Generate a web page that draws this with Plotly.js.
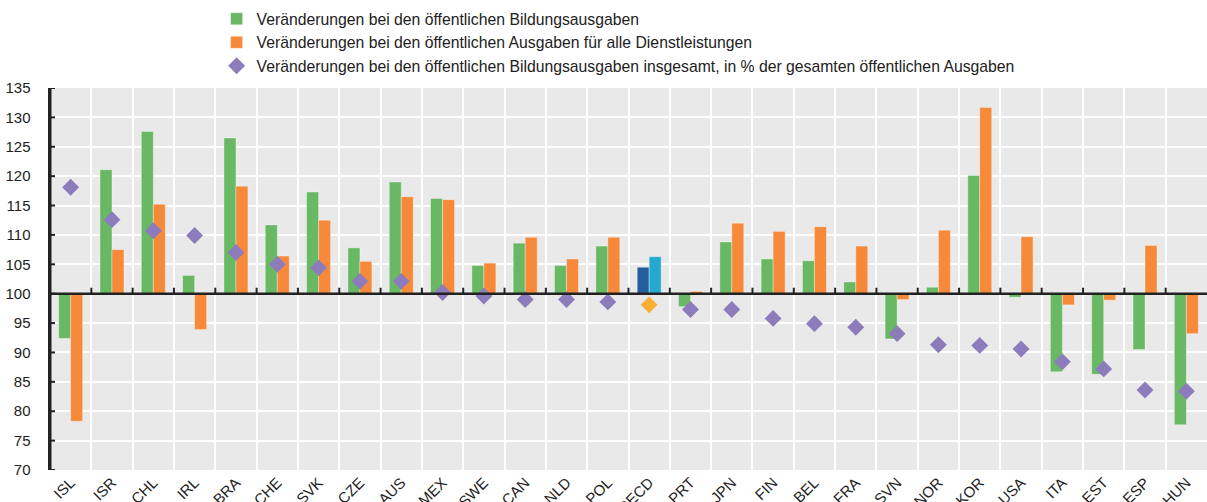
<!DOCTYPE html>
<html>
<head>
<meta charset="utf-8">
<script src="https://cdn.plot.ly/plotly-3.0.1.min.js"></script>
<style>html,body{margin:0;padding:0;background:#fff;}#chart{width:1207px;height:502px;}</style>
</head>
<body>
<div id="chart"></div>
<script>
const countries = ["ISL","ISR","CHL","IRL","BRA","CHE","SVK","CZE","AUS","MEX","SWE","CAN","NLD","POL","OECD","PRT","JPN","FIN","BEL","FRA","SVN","NOR","KOR","USA","ITA","EST","ESP","HUN"];
const educationSpending = [92.4,121.1,127.6,103.1,126.5,111.7,117.3,107.8,119.0,116.2,104.8,108.6,104.8,108.1,104.5,97.8,108.8,105.9,105.6,102.0,92.3,101.1,120.1,99.4,86.7,86.3,90.5,77.7];
const allServicesSpending = [78.3,107.5,115.2,93.9,118.3,106.4,112.5,105.5,116.5,116.0,105.2,109.6,105.9,109.6,106.3,100.4,112.0,110.6,111.4,108.1,99.0,110.8,131.7,109.7,98.1,98.9,108.2,93.2];
const educationShare = [118.1,112.6,110.7,109.9,107.0,105.0,104.4,102.1,102.1,100.2,99.6,99.0,99.0,98.6,98.1,97.3,97.3,95.8,94.9,94.3,93.2,91.3,91.2,90.6,88.4,87.2,83.6,83.4];
const yTicks = [70,75,80,85,90,95,100,105,110,115,120,125,130,135];
const baseline = 100;
const legendNames = [
  "Veränderungen bei den öffentlichen Bildungsausgaben",
  "Veränderungen bei den öffentlichen Ausgaben für alle Dienstleistungen",
  "Veränderungen bei den öffentlichen Bildungsausgaben insgesamt, in % der gesamten öffentlichen Ausgaben"
];

const isOecd = c => c === "OECD";
const greenColors = countries.map(c => isOecd(c) ? "#255e9e" : "#68b864");
const orangeColors = countries.map(c => isOecd(c) ? "#26a9d0" : "#f6893a");
const diamondColors = countries.map(c => isOecd(c) ? "#fbae34" : "#8d7cbc");
const nCat = countries.length;
const axisColor = "#222";

const traces = [
  {
    type: "bar", name: legendNames[0], x: countries,
    y: educationSpending.map(v => v - baseline), base: baseline,
    marker: {color: greenColors, line: {color: "rgba(255,255,255,0.35)", width: 1}},
    hovertemplate: "%{x}: %{customdata}<extra></extra>", customdata: educationSpending
  },
  {
    type: "bar", name: legendNames[1], x: countries,
    y: allServicesSpending.map(v => v - baseline), base: baseline,
    marker: {color: orangeColors, line: {color: "rgba(255,255,255,0.35)", width: 1}},
    hovertemplate: "%{x}: %{customdata}<extra></extra>", customdata: allServicesSpending
  },
  {
    type: "scatter", mode: "markers", name: legendNames[2], x: countries, y: educationShare,
    marker: {symbol: "diamond", size: 13, color: diamondColors},
    hovertemplate: "%{x}: %{y}<extra></extra>"
  }
];

// axis decorations (y-axis line, inside ticks, baseline with category-boundary ticks)
const shapes = [
  {type: "line", xref: "paper", yref: "paper", xsizemode: "pixel", xanchor: 0,
   x0: 0, x1: 0, y0: 0, y1: 1, line: {color: axisColor, width: 3}, layer: "above"},
  {type: "line", xref: "paper", yref: "y", x0: 0, x1: 1, y0: baseline, y1: baseline,
   line: {color: axisColor, width: 2.5}, layer: "above"}
];
yTicks.forEach(t => shapes.push({
  type: "line", xref: "paper", yref: "y", xsizemode: "pixel", xanchor: 0,
  x0: 0, x1: 5, y0: t, y1: t, line: {color: axisColor, width: 2}, layer: "above"
}));
countries.slice(1).forEach((c, i) => shapes.push({
  type: "line", xref: "x", yref: "y", ysizemode: "pixel", yanchor: baseline,
  x0: i + 0.5, x1: i + 0.5, y0: 0, y1: 6, line: {color: axisColor, width: 2}, layer: "above"
}));

const layout = {
  width: 1207, height: 502,
  margin: {l: 50, r: 0, t: 88, b: 32},
  paper_bgcolor: "#ffffff",
  plot_bgcolor: "#e9e9e9",
  font: {family: "Liberation Sans, Arial, sans-serif", size: 15, color: "#222"},
  barmode: "group",
  bargap: 0.42,
  bargroupgap: 0,
  showlegend: true,
  legend: {
    x: 0.144, y: 1.225, xanchor: "left", yanchor: "top",
    bgcolor: "rgba(0,0,0,0)", font: {size: 15.75, color: "#222"},
    tracegroupgap: 0, itemwidth: 30, traceorder: "normal"
  },
  xaxis: {
    type: "category", range: [-0.5, nCat - 0.5], tickson: "boundaries",
    showgrid: true, gridcolor: "#ffffff", gridwidth: 2,
    ticks: "", tickangle: -45, showline: false, zeroline: false, automargin: false,
    tickfont: {size: 15, color: "#222"}
  },
  yaxis: {
    range: [70, 135], tickmode: "array", tickvals: yTicks,
    showgrid: true, gridcolor: "#ffffff", gridwidth: 2,
    zeroline: false, showline: true, linecolor: axisColor, linewidth: 2.5,
    ticks: "outside", ticklen: 14, tickcolor: "rgba(0,0,0,0)",
    automargin: false, tickfont: {size: 15, color: "#222"}
  },
  shapes: shapes
};

Plotly.newPlot("chart", traces, layout, {displayModeBar: false, staticPlot: true});
</script>
</body>
</html>
